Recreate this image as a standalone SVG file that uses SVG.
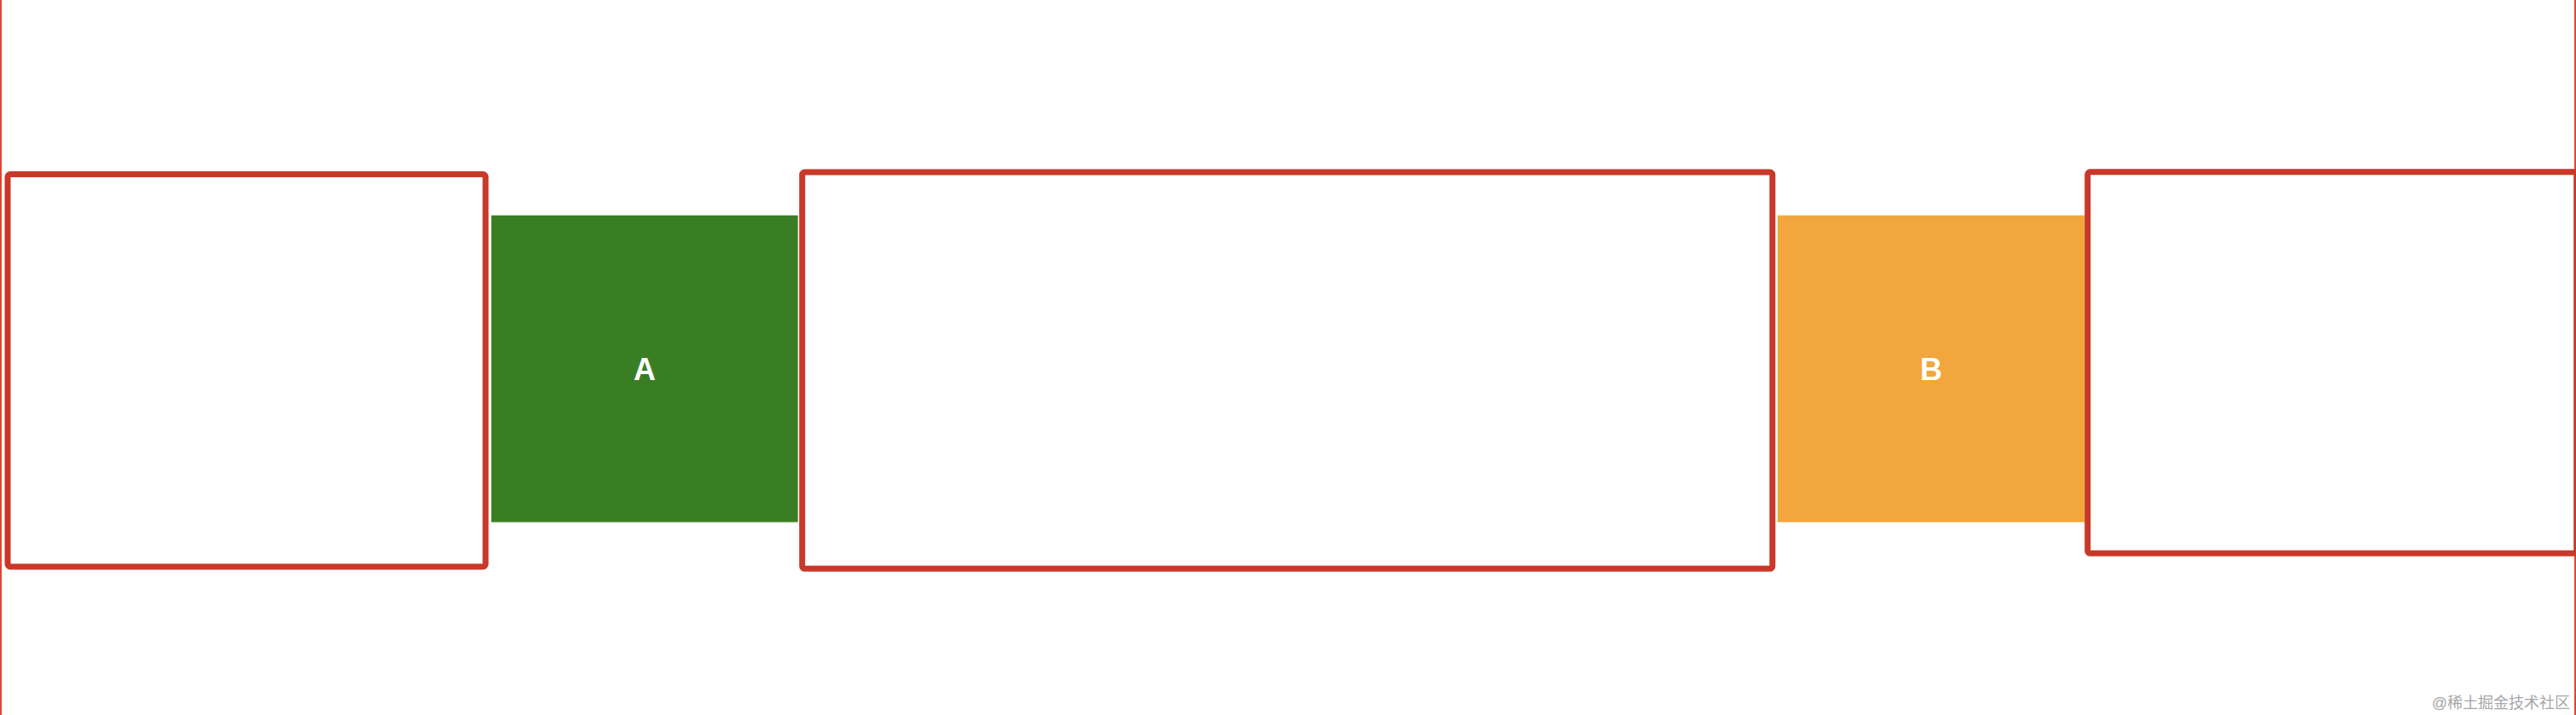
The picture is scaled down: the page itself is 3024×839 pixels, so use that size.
<svg xmlns="http://www.w3.org/2000/svg" width="3024" height="839" viewBox="0 0 3024 839">
  <style>
    .frame { fill: #ffffff; stroke: #c93829; stroke-width: 7; }
    .edge { stroke: #e0452e; stroke-width: 2; fill: none; }
    .label { font-family: "Liberation Sans", Arial, sans-serif; font-weight: bold; font-size: 36px; fill: #ffffff; text-anchor: middle; dominant-baseline: central; }
    .wm { font-family: "Liberation Sans", "Noto Sans CJK SC", sans-serif; font-size: 18px; fill: #a6a6a6; text-anchor: end; }
  </style>
  <rect width="3024" height="839" fill="#ffffff"/>
  <g id="borders">
    <line class="edge" x1="1" y1="0" x2="1" y2="839"/>
    <line class="edge" x1="3023" y1="0" x2="3023" y2="839"/>
  </g>
  <g id="frame1">
    <rect class="frame" x="9" y="204.5" width="561" height="460.5" rx="3"/>
  </g>
  <g id="nodeA">
    <rect x="576.7" y="252.7" width="360" height="360" fill="#3a7e23"/>
    <text class="label" x="756.7" y="433">A</text>
  </g>
  <g id="frame2">
    <rect class="frame" x="941.7" y="202" width="1139" height="465.3" rx="3"/>
  </g>
  <g id="nodeB">
    <rect x="2086.7" y="252.7" width="360.6" height="360" fill="#f1a73d"/>
    <text class="label" x="2267" y="433">B</text>
  </g>
  <g id="frame3">
    <rect class="frame" x="2450.7" y="201.8" width="574" height="447.5" rx="3"/>
  </g>
  <g id="connectors"></g>
  <text class="wm" x="3017" y="831">@稀土掘金技术社区</text>
</svg>
